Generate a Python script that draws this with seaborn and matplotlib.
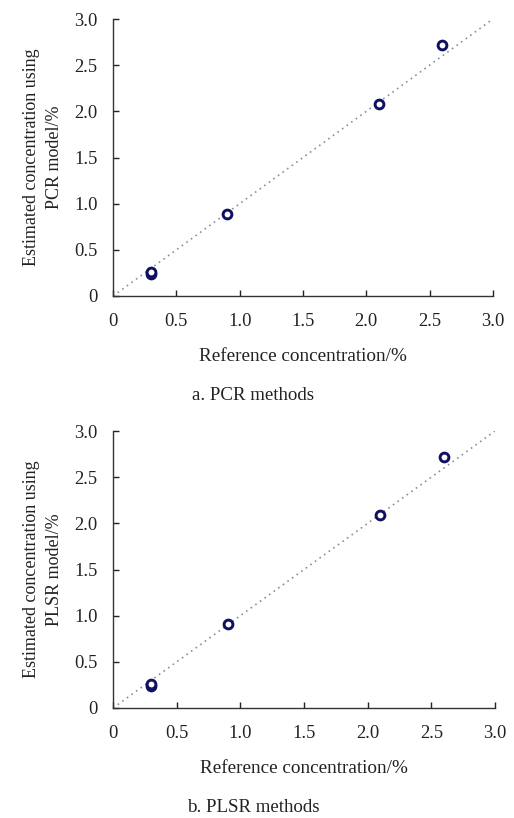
import matplotlib
matplotlib.use("Agg")
import matplotlib.pyplot as plt
import seaborn as sns
import pandas as pd

sns.set_theme(style="ticks")
plt.rcParams['font.family'] = ['Liberation Serif', 'DejaVu Serif']

# Data
ref_conc = [0.3, 0.3, 0.9, 2.1, 2.6]
pcr_est = [0.24, 0.26, 0.89, 2.08, 2.72]
plsr_est = [0.24, 0.26, 0.91, 2.09, 2.72]
tick_vals = [0, 0.5, 1.0, 1.5, 2.0, 2.5, 3.0]
tick_labels = ["0", "0.5", "1.0", "1.5", "2.0", "2.5", "3.0"]
diag = [0, 3.0]

panels = [
    ("Estimated concentration using\nPCR model/%", pcr_est, "a. PCR methods"),
    ("Estimated concentration using\nPLSR model/%", plsr_est, "b. PLSR methods"),
]

fig = plt.figure(figsize=(5.14, 8.18), dpi=100)
axes_pos = [[0.220, 1 - 296 / 818, 0.739, 277 / 818],
            [0.220, 1 - 708 / 818, 0.743, 277 / 818]]
caption_y = [1 - 396 / 818, 1 - 808 / 818]

navy = "#101060"
txt = "#222222"
for (ylabel, est, caption), pos, cy in zip(panels, axes_pos, caption_y):
    ax = fig.add_axes(pos)
    df = pd.DataFrame({"ref": ref_conc, "est": est})
    sns.lineplot(x=diag, y=diag, ax=ax, color="#8890a0", linestyle=(0, (1, 2.4)),
                 linewidth=1.2)
    sns.scatterplot(data=df, x="ref", y="est", ax=ax, marker="o", s=40,
                    facecolor="white", edgecolor=navy, linewidth=2.1, zorder=3)
    ax.set_xlim(0, 3.0)
    ax.set_ylim(0, 3.0)
    ax.set_xticks(tick_vals)
    ax.set_xticklabels(tick_labels)
    ax.set_yticks(tick_vals)
    ax.set_yticklabels(tick_labels)
    ax.tick_params(direction="in", length=4, width=1, labelsize=13.3, colors=txt)
    ax.tick_params(axis="x", pad=12)
    ax.tick_params(axis="y", pad=11)
    for s in ["top", "right"]:
        ax.spines[s].set_visible(False)
    for s in ["left", "bottom"]:
        ax.spines[s].set_linewidth(1.0)
        ax.spines[s].set_color("#333333")
    ax.set_xlabel("Reference concentration/%", fontsize=13.8, color=txt, labelpad=13)
    ax.set_ylabel(ylabel, fontsize=13.0, color=txt, labelpad=8, linespacing=1.45)
    fig.text(0.493, cy, caption, ha="center", va="center", fontsize=13.6, color=txt)

fig.savefig("out.png", dpi=100)
